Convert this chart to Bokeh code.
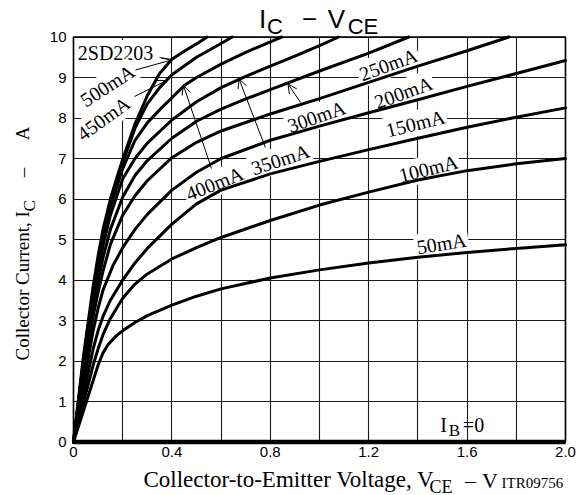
from bokeh.plotting import figure
from bokeh.models import Label, Arrow, OpenHead, FixedTicker, Range1d, Grid
from bokeh.embed import file_html
from bokeh.resources import INLINE

# ---------------- data (V_CE in volts, I_C in amperes) ----------------
ib50_v = [0, 0.05, 0.10, 0.12, 0.14, 0.17, 0.20, 0.25, 0.30, 0.40, 0.50, 0.60, 0.80, 1.00, 1.20, 1.40, 1.60, 1.80, 2.00]
ib50_i = [0, 0.95, 1.90, 2.20, 2.40, 2.60, 2.75, 2.95, 3.12, 3.38, 3.60, 3.78, 4.05, 4.25, 4.42, 4.56, 4.68, 4.78, 4.87]

ib100_v = [0, 0.04, 0.08, 0.10, 0.12, 0.15, 0.20, 0.25, 0.30, 0.40, 0.50, 0.60, 0.80, 1.00, 1.20, 1.40, 1.60, 1.80, 2.00]
ib100_i = [0, 0.96, 1.90, 2.30, 2.65, 3.05, 3.55, 3.90, 4.15, 4.52, 4.80, 5.05, 5.47, 5.85, 6.17, 6.47, 6.70, 6.87, 7.00]

ib150_v = [0, 0.04, 0.08, 0.10, 0.12, 0.15, 0.20, 0.25, 0.30, 0.40, 0.50, 0.60, 0.80, 1.00, 1.20, 1.40, 1.60, 1.80, 2.00]
ib150_i = [0, 1.15, 2.30, 2.75, 3.10, 3.50, 4.00, 4.42, 4.78, 5.38, 5.88, 6.22, 6.62, 6.93, 7.22, 7.50, 7.77, 8.02, 8.25]

ib200_v = [0, 0.04, 0.08, 0.10, 0.12, 0.16, 0.20, 0.25, 0.30, 0.40, 0.50, 0.60, 0.80, 1.00, 1.20, 1.40, 1.60, 1.80, 2.00]
ib200_i = [0, 1.40, 2.75, 3.30, 3.75, 4.35, 4.80, 5.25, 5.62, 6.22, 6.66, 7.00, 7.45, 7.80, 8.13, 8.45, 8.78, 9.10, 9.42]

ib250_v = [0, 0.04, 0.08, 0.10, 0.12, 0.15, 0.20, 0.25, 0.30, 0.40, 0.50, 0.60, 0.80, 1.00, 1.20, 1.40, 1.60, 1.77]
ib250_i = [0, 1.65, 3.10, 3.70, 4.22, 4.88, 5.60, 6.08, 6.45, 7.02, 7.40, 7.68, 8.10, 8.48, 8.88, 9.28, 9.66, 10.0]

ib300_v = [0, 0.04, 0.08, 0.10, 0.12, 0.15, 0.20, 0.25, 0.30, 0.40, 0.50, 0.60, 0.70, 0.80, 1.00, 1.20, 1.363]
ib300_i = [0, 1.80, 3.30, 3.95, 4.55, 5.25, 6.05, 6.58, 6.95, 7.50, 7.92, 8.22, 8.47, 8.70, 9.16, 9.60, 10.0]

ib350_v = [0, 0.04, 0.08, 0.10, 0.12, 0.15, 0.20, 0.25, 0.30, 0.40, 0.50, 0.60, 0.70, 0.80, 0.90, 1.00, 1.078]
ib350_i = [0, 1.90, 3.50, 4.20, 4.85, 5.60, 6.50, 7.00, 7.38, 7.95, 8.40, 8.75, 9.03, 9.28, 9.53, 9.79, 10.0]

ib400_v = [0, 0.04, 0.08, 0.10, 0.12, 0.15, 0.20, 0.25, 0.30, 0.35, 0.40, 0.45, 0.50, 0.60, 0.70, 0.80, 0.846]
ib400_i = [0, 1.95, 3.65, 4.40, 5.05, 5.80, 6.75, 7.45, 7.88, 8.20, 8.50, 8.80, 9.00, 9.33, 9.62, 9.88, 10.0]

ib450_v = [0, 0.04, 0.08, 0.10, 0.12, 0.15, 0.20, 0.25, 0.30, 0.35, 0.40, 0.50, 0.60, 0.645]
ib450_i = [0, 2.00, 3.75, 4.50, 5.15, 5.90, 6.90, 7.75, 8.35, 8.75, 9.07, 9.50, 9.84, 10.0]

ib500_v = [0, 0.04, 0.08, 0.10, 0.12, 0.15, 0.18, 0.20, 0.25, 0.30, 0.35, 0.40, 0.45, 0.50, 0.543]
ib500_i = [0, 2.10, 3.85, 4.60, 5.25, 6.00, 6.60, 6.98, 7.85, 8.55, 9.10, 9.45, 9.65, 9.83, 10.0]

ib0_v = [0.0, 2.0]
ib0_i = [0.0, 0.0]

x_ticks = [0, 0.4, 0.8, 1.2, 1.6, 2.0]
x_tick_labels = ["0", "0.4", "0.8", "1.2", "1.6", "2.0"]
x_grid = [0, 0.2, 0.4, 0.6, 0.8, 1.0, 1.2, 1.4, 1.6, 1.8, 2.0]
y_ticks = [0, 1, 2, 3, 4, 5, 6, 7, 8, 9, 10]
y_tick_labels = ["0", "1", "2", "3", "4", "5", "6", "7", "8", "9", "10"]

SERIF = "Liberation Serif"
SANS = "Liberation Sans"

# ---------------- page geometry (pixels) ----------------
W, H = 586, 495
FRAME_L, FRAME_R, FRAME_T, FRAME_B = 73.0, 565.0, 36.5, 441.5
XMIN, XMAX = x_ticks[0], x_ticks[-1]
YMIN, YMAX = y_ticks[0], y_ticks[-1]
SX = (FRAME_R - FRAME_L) / (XMAX - XMIN)
SY = (FRAME_B - FRAME_T) / (YMAX - YMIN)
MID = 0.34  # distance (in em) from the alphabetic baseline up to the text middle


def X(px):
    return XMIN + (px - FRAME_L) / SX


def Y(py):
    return YMIN + (FRAME_B - py) / SY


p = figure(width=W, height=H, output_backend="svg", toolbar_location=None,
           x_range=Range1d(X(0), X(W)), y_range=Range1d(Y(H), Y(0)), min_border=0)
p.background_fill_color = "white"
p.border_fill_color = "white"
p.outline_line_color = None

# axes: library axes pinned at the data origin
p.xaxis.fixed_location = YMIN
p.yaxis.fixed_location = XMIN
p.xaxis.bounds = (XMIN, XMAX)
p.yaxis.bounds = (YMIN, YMAX)
p.xaxis.ticker = FixedTicker(ticks=x_ticks)
p.yaxis.ticker = FixedTicker(ticks=y_ticks)
p.xaxis.major_label_overrides = {t: s for t, s in zip(x_ticks, x_tick_labels)}
p.yaxis.major_label_overrides = {t: s for t, s in zip(y_ticks, y_tick_labels)}
for ax in (p.xaxis, p.yaxis):
    ax.axis_line_color = None
    ax.major_tick_line_color = None
    ax.minor_tick_line_color = None
    ax.major_tick_out = 0
    ax.major_tick_in = 0
    ax.major_label_text_font = SANS
    ax.major_label_text_font_size = "15px"
    ax.major_label_text_color = "black"
p.xaxis.major_label_standoff = 5
p.yaxis.major_label_standoff = 7

# grid limited to the data area
GRID_COLOR, GRID_W = "#1a1a1a", 1.1
if "cross_bounds" in Grid.properties():
    p.xgrid.ticker = FixedTicker(ticks=x_grid)
    p.ygrid.ticker = FixedTicker(ticks=y_ticks)
    p.xgrid.bounds = (XMIN, XMAX)
    p.xgrid.cross_bounds = (YMIN, YMAX)
    p.ygrid.bounds = (YMIN, YMAX)
    p.ygrid.cross_bounds = (XMIN, XMAX)
    for g in (p.xgrid, p.ygrid):
        g.grid_line_color = GRID_COLOR
        g.grid_line_width = GRID_W
        g.grid_line_alpha = 1.0
else:
    p.grid.visible = False
    p.segment(x0=x_grid, y0=[YMIN] * len(x_grid), x1=x_grid, y1=[YMAX] * len(x_grid),
              line_color=GRID_COLOR, line_width=GRID_W, level="underlay")
    p.segment(x0=[XMIN] * len(y_ticks), y0=y_ticks, x1=[XMAX] * len(y_ticks), y1=y_ticks,
              line_color=GRID_COLOR, line_width=GRID_W, level="underlay")

# border of the data area
p.quad(left=[XMIN], right=[XMAX], bottom=[YMIN], top=[YMAX],
       fill_color=None, line_color="black", line_width=1.6)

# ---------------- curves ----------------
curves = [(ib50_v, ib50_i), (ib100_v, ib100_i), (ib150_v, ib150_i), (ib200_v, ib200_i),
          (ib250_v, ib250_i), (ib300_v, ib300_i), (ib350_v, ib350_i), (ib400_v, ib400_i),
          (ib450_v, ib450_i), (ib500_v, ib500_i)]
for (xv, yv) in curves:
    p.line(xv, yv, line_color="black", line_width=3.0, line_join="round", line_cap="round")
p.line(ib0_v, ib0_i, line_color="black", line_width=4.5)


def txt(x, y, s, size, font=SERIF, angle=0, align="center", bg=False, level="annotation"):
    lab = Label(x=x, y=y, text=s, text_font=font, text_font_size=f"{size}px",
                text_color="black", angle=angle, angle_units="deg",
                text_align=align, text_baseline="middle", level=level)
    if bg:
        lab.background_fill_color = "white"
        lab.background_fill_alpha = 1.0
        lab.padding = 2
    p.add_layout(lab)


def htxt(px, base_py, s, size, font=SERIF, align="center"):
    """horizontal text whose alphabetic baseline sits at page row base_py"""
    txt(X(px), Y(base_py - MID * size), s, size, font=font, align=align)


def vtxt(base_px, py, s, size, font=SERIF, align="center"):
    """text rotated 90 deg whose baseline sits at page column base_px"""
    txt(X(base_px - MID * size), Y(py), s, size, font=font, angle=90, align=align)


# curve labels: (text, x, y, angle) in data units
curve_label_pos = [
    ("2SD2203", 0.171, 9.605, 0),
    ("500mA", 0.138, 8.80, 33),
    ("450mA", 0.122, 7.99, 36),
    ("400mA", 0.573, 6.383, 22),
    ("350mA", 0.841, 6.975, 18),
    ("300mA", 0.988, 8.037, 19),
    ("250mA", 1.280, 9.32, 20),
    ("200mA", 1.341, 8.63, 20),
    ("150mA", 1.390, 7.864, 14),
    ("100mA", 1.443, 6.753, 14),
    ("50mA", 1.496, 4.901, 9),
]
for s, x, y, a in curve_label_pos:
    txt(x, y, s, 20, angle=a, bg=True, level="underlay")

# pointer arrows: (x_start, y_start, x_end, y_end, head)
pointers = [
    (0.350, 9.494, 0.398, 9.444, False),
    (0.252, 9.185, 0.398, 9.432, True),
    (0.248, 8.531, 0.378, 8.926, True),
    (0.561, 6.753, 0.447, 8.802, True),
    (0.780, 7.272, 0.673, 8.963, True),
    (0.923, 8.383, 0.872, 8.840, True),
]
for xs, ys, xe, ye, head in pointers:
    end = OpenHead(size=9, line_width=1, line_color="black") if head else None
    p.add_layout(Arrow(x_start=xs, y_start=ys, x_end=xe, y_end=ye, end=end,
                       line_width=1, line_color="black"))

# I_B = 0
htxt(443, 431, "I", 20)
htxt(454, 436, "B", 17)
htxt(473, 431, "=0", 20)

# title  I_C - V_CE
htxt(262, 27, "I", 26, font=SANS)
htxt(274.5, 33, "C", 22, font=SANS)
htxt(309, 27, "\u2212", 26, font=SANS)
htxt(336, 27, "V", 26, font=SANS)
htxt(362.5, 33, "CE", 22, font=SANS)

# y-axis label (rotated)
vtxt(28, 360, "Collector Current, I", 19, align="left")
vtxt(35, 211, "C", 17, align="left")
vtxt(28, 172, "\u2013", 19)
vtxt(28, 133, "A", 19)

# x-axis label
htxt(143, 487, "Collector-to-Emitter Voltage, V", 23, align="left")
htxt(429, 493, "CE", 18, align="left")
htxt(470, 487, "\u2013", 22)
htxt(489.5, 487, "V", 22)
htxt(501, 488, "ITR09756", 15, align="left")

open("out.html", "w").write(file_html(p, INLINE))
